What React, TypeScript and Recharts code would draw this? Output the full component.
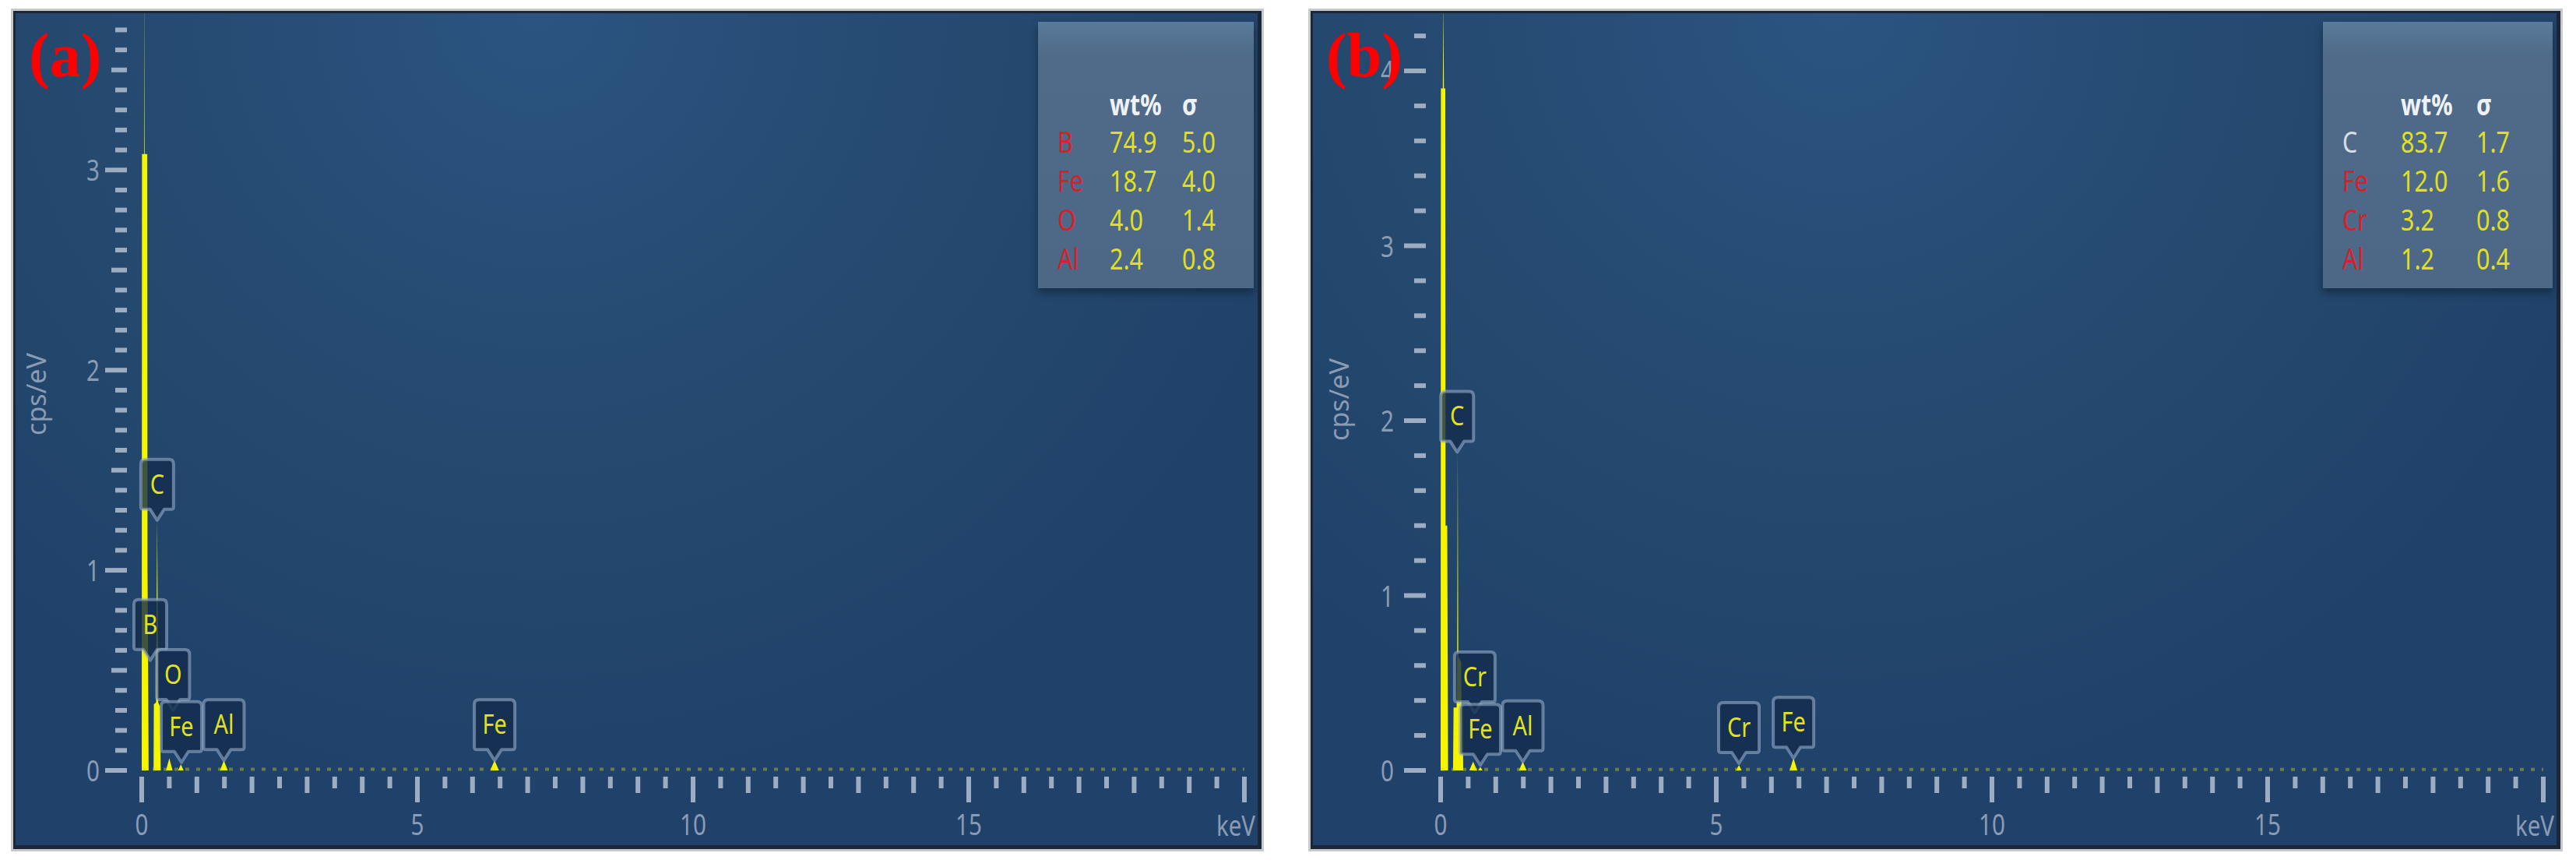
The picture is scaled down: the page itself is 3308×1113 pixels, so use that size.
import React from 'react';
import { ComposedChart, Area, XAxis, YAxis, ReferenceDot, ReferenceLine } from 'recharts';

// spectrum (a): energy (keV) and intensity (cps/eV)
const kevA = [0, 0.005, 0.045, 0.05, 0.055, 0.10, 0.105, 0.115, 0.125, 0.215, 0.22, 0.26, 0.28, 0.30, 0.33, 0.345, 0.44, 0.50, 0.56, 0.66, 0.71, 0.76, 1.42, 1.49, 1.56, 6.32, 6.40, 6.48, 20];
const cpsA = [0, 3.08, 3.08, 3.95, 3.08, 3.08, 1.0, 0.6, 0, 0, 0.33, 0.34, 1.25, 0.34, 0.32, 0, 0, 0.06, 0, 0, 0.03, 0, 0, 0.05, 0, 0, 0.05, 0, 0];

// spectrum (b)
const kevB = [0, 0.005, 0.04, 0.05, 0.06, 0.085, 0.09, 0.12, 0.135, 0.225, 0.235, 0.29, 0.30, 0.31, 0.32, 0.37, 0.38, 0.40, 0.41, 0.52, 0.59, 0.66, 0.68, 0.72, 0.76, 1.42, 1.49, 1.56, 5.36, 5.41, 5.46, 6.33, 6.40, 6.47, 20];
const cpsB = [0, 3.9, 3.9, 4.4, 3.9, 3.9, 1.4, 1.4, 0, 0, 0.36, 0.36, 0.65, 1.83, 0.65, 0.62, 0.36, 0.36, 0, 0, 0.05, 0, 0, 0.02, 0, 0, 0.05, 0, 0, 0.03, 0, 0, 0.07, 0, 0];

// peak callouts
const peaksA = ['C', 'B', 'O', 'Fe', 'Al', 'Fe'];
const peakKevA = [0.28, 0.155, 0.57, 0.72, 1.49, 6.40];
const peakTipA = [1.25, 0.55, 0.30, 0.04, 0.05, 0.05];

const peaksB = ['C', 'Cr', 'Fe', 'Al', 'Cr', 'Fe'];
const peakKevB = [0.30, 0.62, 0.72, 1.49, 5.41, 6.40];
const peakTipB = [1.82, 0.33, 0.03, 0.05, 0.04, 0.07];

// quantification tables
const elementsA = ['B', 'Fe', 'O', 'Al'];
const wtA = ['74.9', '18.7', '4.0', '2.4'];
const sigmaA = ['5.0', '4.0', '1.4', '0.8'];
const elementsB = ['C', 'Fe', 'Cr', 'Al'];
const wtB = ['83.7', '12.0', '3.2', '1.2'];
const sigmaB = ['1.7', '1.6', '0.8', '0.4'];

// axis labels
const xLabels = [0, 5, 10, 15];
const yLabelsA = [0, 1, 2, 3];
const yLabelsB = [0, 1, 2, 3, 4];

const FONT = '"Noto Sans", "DejaVu Sans", sans-serif';
const TICK_TEXT = '#8a9bb4';
const TICK_MARK = '#aab8cb';

function range(start: number, end: number, step: number) {
  const out: number[] = [];
  for (let i = 0; start + i * step <= end + 1e-9; i++) {
    out.push(Math.round((start + i * step) * 1000) / 1000);
  }
  return out;
}

const isMult = (v: number, m: number) => Math.abs(v / m - Math.round(v / m)) < 1e-6;

const xTickVals = range(0, 20, 0.5);

function Callout({ cx, cy, text }: any) {
  const w = text.length > 1 ? 52 : 42;
  const h = 64;
  const p = 14;
  const hw = 9;
  const r = 6;
  const left = cx - w / 2;
  const right = cx + w / 2;
  const bottom = cy - p;
  const top = bottom - h;
  const d = `M${left + r},${top} L${right - r},${top} Q${right},${top} ${right},${top + r} L${right},${bottom - 3} Q${right},${bottom} ${right - 3},${bottom} L${cx + hw},${bottom} L${cx},${cy} L${cx - hw},${bottom} L${left + 3},${bottom} Q${left},${bottom} ${left},${bottom - 3} L${left},${top + r} Q${left},${top} ${left + r},${top} Z`;
  return (
    <g>
      <path d={d} fill="rgba(20,44,78,0.8)" stroke="rgba(150,172,200,0.6)" strokeWidth={4} strokeLinejoin="round" />
      <text
        transform={`translate(${cx},${top + h / 2 + 12}) scale(0.85,1)`}
        textAnchor="middle"
        fontSize={34}
        fill="#e2e21a"
        fontFamily={FONT}
      >
        {text}
      </text>
    </g>
  );
}

function XTick({ x, y, payload }: any) {
  const v = payload.value;
  const len = isMult(v, 5) ? 33 : isMult(v, 1) ? 21 : 15;
  return (
    <g>
      <rect x={x - 3} y={y + 8} width={6} height={len} fill={TICK_MARK} opacity={0.9} />
      {xLabels.some((l) => Math.abs(l - v) < 1e-6) && (
        <text transform={`translate(${x},${y + 83}) scale(0.78,1)`} textAnchor="middle" fontSize={38} fill={TICK_TEXT} fontFamily={FONT}>
          {v}
        </text>
      )}
    </g>
  );
}

function YTick({ x, y, payload, labels, half, gap }: any) {
  const v = payload.value;
  const len = isMult(v, 1) ? 28 : half && isMult(v, 0.5) ? 20 : 15;
  return (
    <g>
      <rect x={x - 19 - len} y={y - 3} width={len} height={6} fill={TICK_MARK} opacity={0.9} />
      {labels.some((l: number) => Math.abs(l - v) < 1e-6) && (
        <text transform={`translate(${x - gap},${y + 14}) scale(0.78,1)`} textAnchor="end" fontSize={38} fill={TICK_TEXT} fontFamily={FONT}>
          {v}
        </text>
      )}
    </g>
  );
}

function Panel(props: any) {
  const {
    left, width, yAxisW, tag, kev, cps, yMax, yStep, yLabels, half, gap, unitX, unitY,
    peaks, peakKev, peakTip, elements, wt, sigma, firstColor, box,
  } = props;
  const data = kev.map((k: number, i: number) => ({ kev: k, cps: cps[i] }));
  const yTicks = range(0, yMax - 0.05, yStep);
  const height = 1076;
  return (
    <div
      style={{
        position: 'absolute',
        left,
        top: 14,
        width,
        height,
        background: 'radial-gradient(ellipse 65% 95% at 42% 0%, #2b5481 0%, #25496f 55%, #20426a 100%)',
        boxShadow: '0 0 0 3px #c9c9c9',
      }}
    >
      <ComposedChart width={width} height={height} data={data} margin={{ top: 0, right: 22, bottom: 0, left: 0 }}>
        <XAxis
          dataKey="kev"
          type="number"
          domain={[0, 20]}
          allowDataOverflow
          ticks={xTickVals}
          interval={0}
          tickSize={0}
          tickMargin={0}
          axisLine={false}
          tickLine={false}
          height={101}
          tick={(p: any) => <XTick {...p} />}
          label={(p: any) => {
            const vb = p.viewBox || { x: yAxisW, y: 975, width: 1416, height: 101 };
            return (
              <text transform={`translate(${vb.x + vb.width + 14},${vb.y + 84}) scale(0.82,1)`} textAnchor="end" fontSize={36} fill={TICK_TEXT} fontFamily={FONT}>
                keV
              </text>
            );
          }}
        />
        <YAxis
          type="number"
          domain={[0, yMax]}
          allowDataOverflow
          ticks={yTicks}
          interval={0}
          tickSize={0}
          tickMargin={0}
          axisLine={false}
          tickLine={false}
          width={yAxisW}
          tick={(p: any) => <YTick {...p} labels={yLabels} half={half} gap={gap} />}
          label={() => (
            <text transform={`translate(${unitX},${unitY}) rotate(-90)`} textAnchor="middle" fontSize={34} fill={TICK_TEXT} fontFamily={FONT}>
              cps/eV
            </text>
          )}
        />
        <ReferenceLine y={0.006} stroke="#d8d820" strokeOpacity={0.4} strokeWidth={4} strokeDasharray="5 9" />
        <Area
          dataKey="cps"
          type="linear"
          stroke="none"
          fill="#f5f500"
          fillOpacity={1}
          isAnimationActive={false}
          dot={false}
          activeDot={false}
        />
        {peaks.map((name: string, i: number) => (
          <ReferenceDot
            key={`pk-${i}`}
            x={peakKev[i]}
            y={peakTip[i]}
            r={0}
            ifOverflow="visible"
            shape={(p: any) => <Callout cx={p.cx} cy={p.cy} text={name} />}
          />
        ))}
      </ComposedChart>

      <div
        style={{
          position: 'absolute',
          left: box.left,
          top: 14,
          width: box.width,
          height: 342,
          background: 'linear-gradient(180deg, #5a7a9b 0%, #4f6b89 12%, #4d6886 100%)',
          boxShadow: '0 6px 10px rgba(0,0,0,0.35)',
        }}
      />

      <svg width={width} height={height} style={{ position: 'absolute', left: 0, top: 0, pointerEvents: 'none' }}>
        <g fontFamily={FONT} fontSize={38}>
          <text transform={`translate(${box.left + box.col2},${134}) scale(0.8,1)`} fill="#eef2f6" fontWeight="bold">wt%</text>
          <text transform={`translate(${box.left + box.col3},${134}) scale(0.8,1)`} fill="#eef2f6" fontWeight="bold">σ</text>
          {elements.map((el: string, i: number) => (
            <g key={`row-${i}`}>
              <text transform={`translate(${box.left + box.col1},${182 + i * 50}) scale(0.8,1)`} fill={i === 0 ? firstColor : '#dc1e28'}>{el}</text>
              <text transform={`translate(${box.left + box.col2},${182 + i * 50}) scale(0.8,1)`} fill="#e0e020">{wt[i]}</text>
              <text transform={`translate(${box.left + box.col3},${182 + i * 50}) scale(0.8,1)`} fill="#e0e020">{sigma[i]}</text>
            </g>
          ))}
        </g>
        <text x={20} y={84} fontFamily='"Liberation Serif", "Times New Roman", serif' fontWeight="bold" fontSize={80} fill="#ff0000">
          {tag}
        </text>
      </svg>

      <div
        style={{
          position: 'absolute',
          inset: 0,
          border: '3px solid #1b2737',
          borderRightWidth: 5,
          borderBottomWidth: 5,
          pointerEvents: 'none',
        }}
      />
    </div>
  );
}

export default function App() {
  return (
    <div style={{ position: 'absolute', left: 0, top: 0, width: 3308, height: 1113, background: '#ffffff', overflow: 'hidden' }}>
      <Panel
        left={17}
        width={1603}
        yAxisW={165}
        tag="(a)"
        kev={kevA}
        cps={cpsA}
        yMax={3.795}
        yStep={0.1}
        yLabels={yLabelsA}
        half
        gap={54}
        unitX={42}
        unitY={492}
        peaks={peaksA}
        peakKev={peakKevA}
        peakTip={peakTipA}
        elements={elementsA}
        wt={wtA}
        sigma={sigmaA}
        firstColor="#dc1e28"
        box={{ left: 1316, width: 277, col1: 25, col2: 92, col3: 185 }}
      />
      <Panel
        left={1683}
        width={1605}
        yAxisW={167}
        tag="(b)"
        kev={kevB}
        cps={cpsB}
        yMax={4.343}
        yStep={0.2}
        yLabels={yLabelsB}
        half={false}
        gap={60}
        unitX={49}
        unitY={499}
        peaks={peaksB}
        peakKev={peakKevB}
        peakTip={peakTipB}
        elements={elementsB}
        wt={wtB}
        sigma={sigmaB}
        firstColor="#d9dde3"
        box={{ left: 1300, width: 295, col1: 25, col2: 100, col3: 197 }}
      />
    </div>
  );
}
